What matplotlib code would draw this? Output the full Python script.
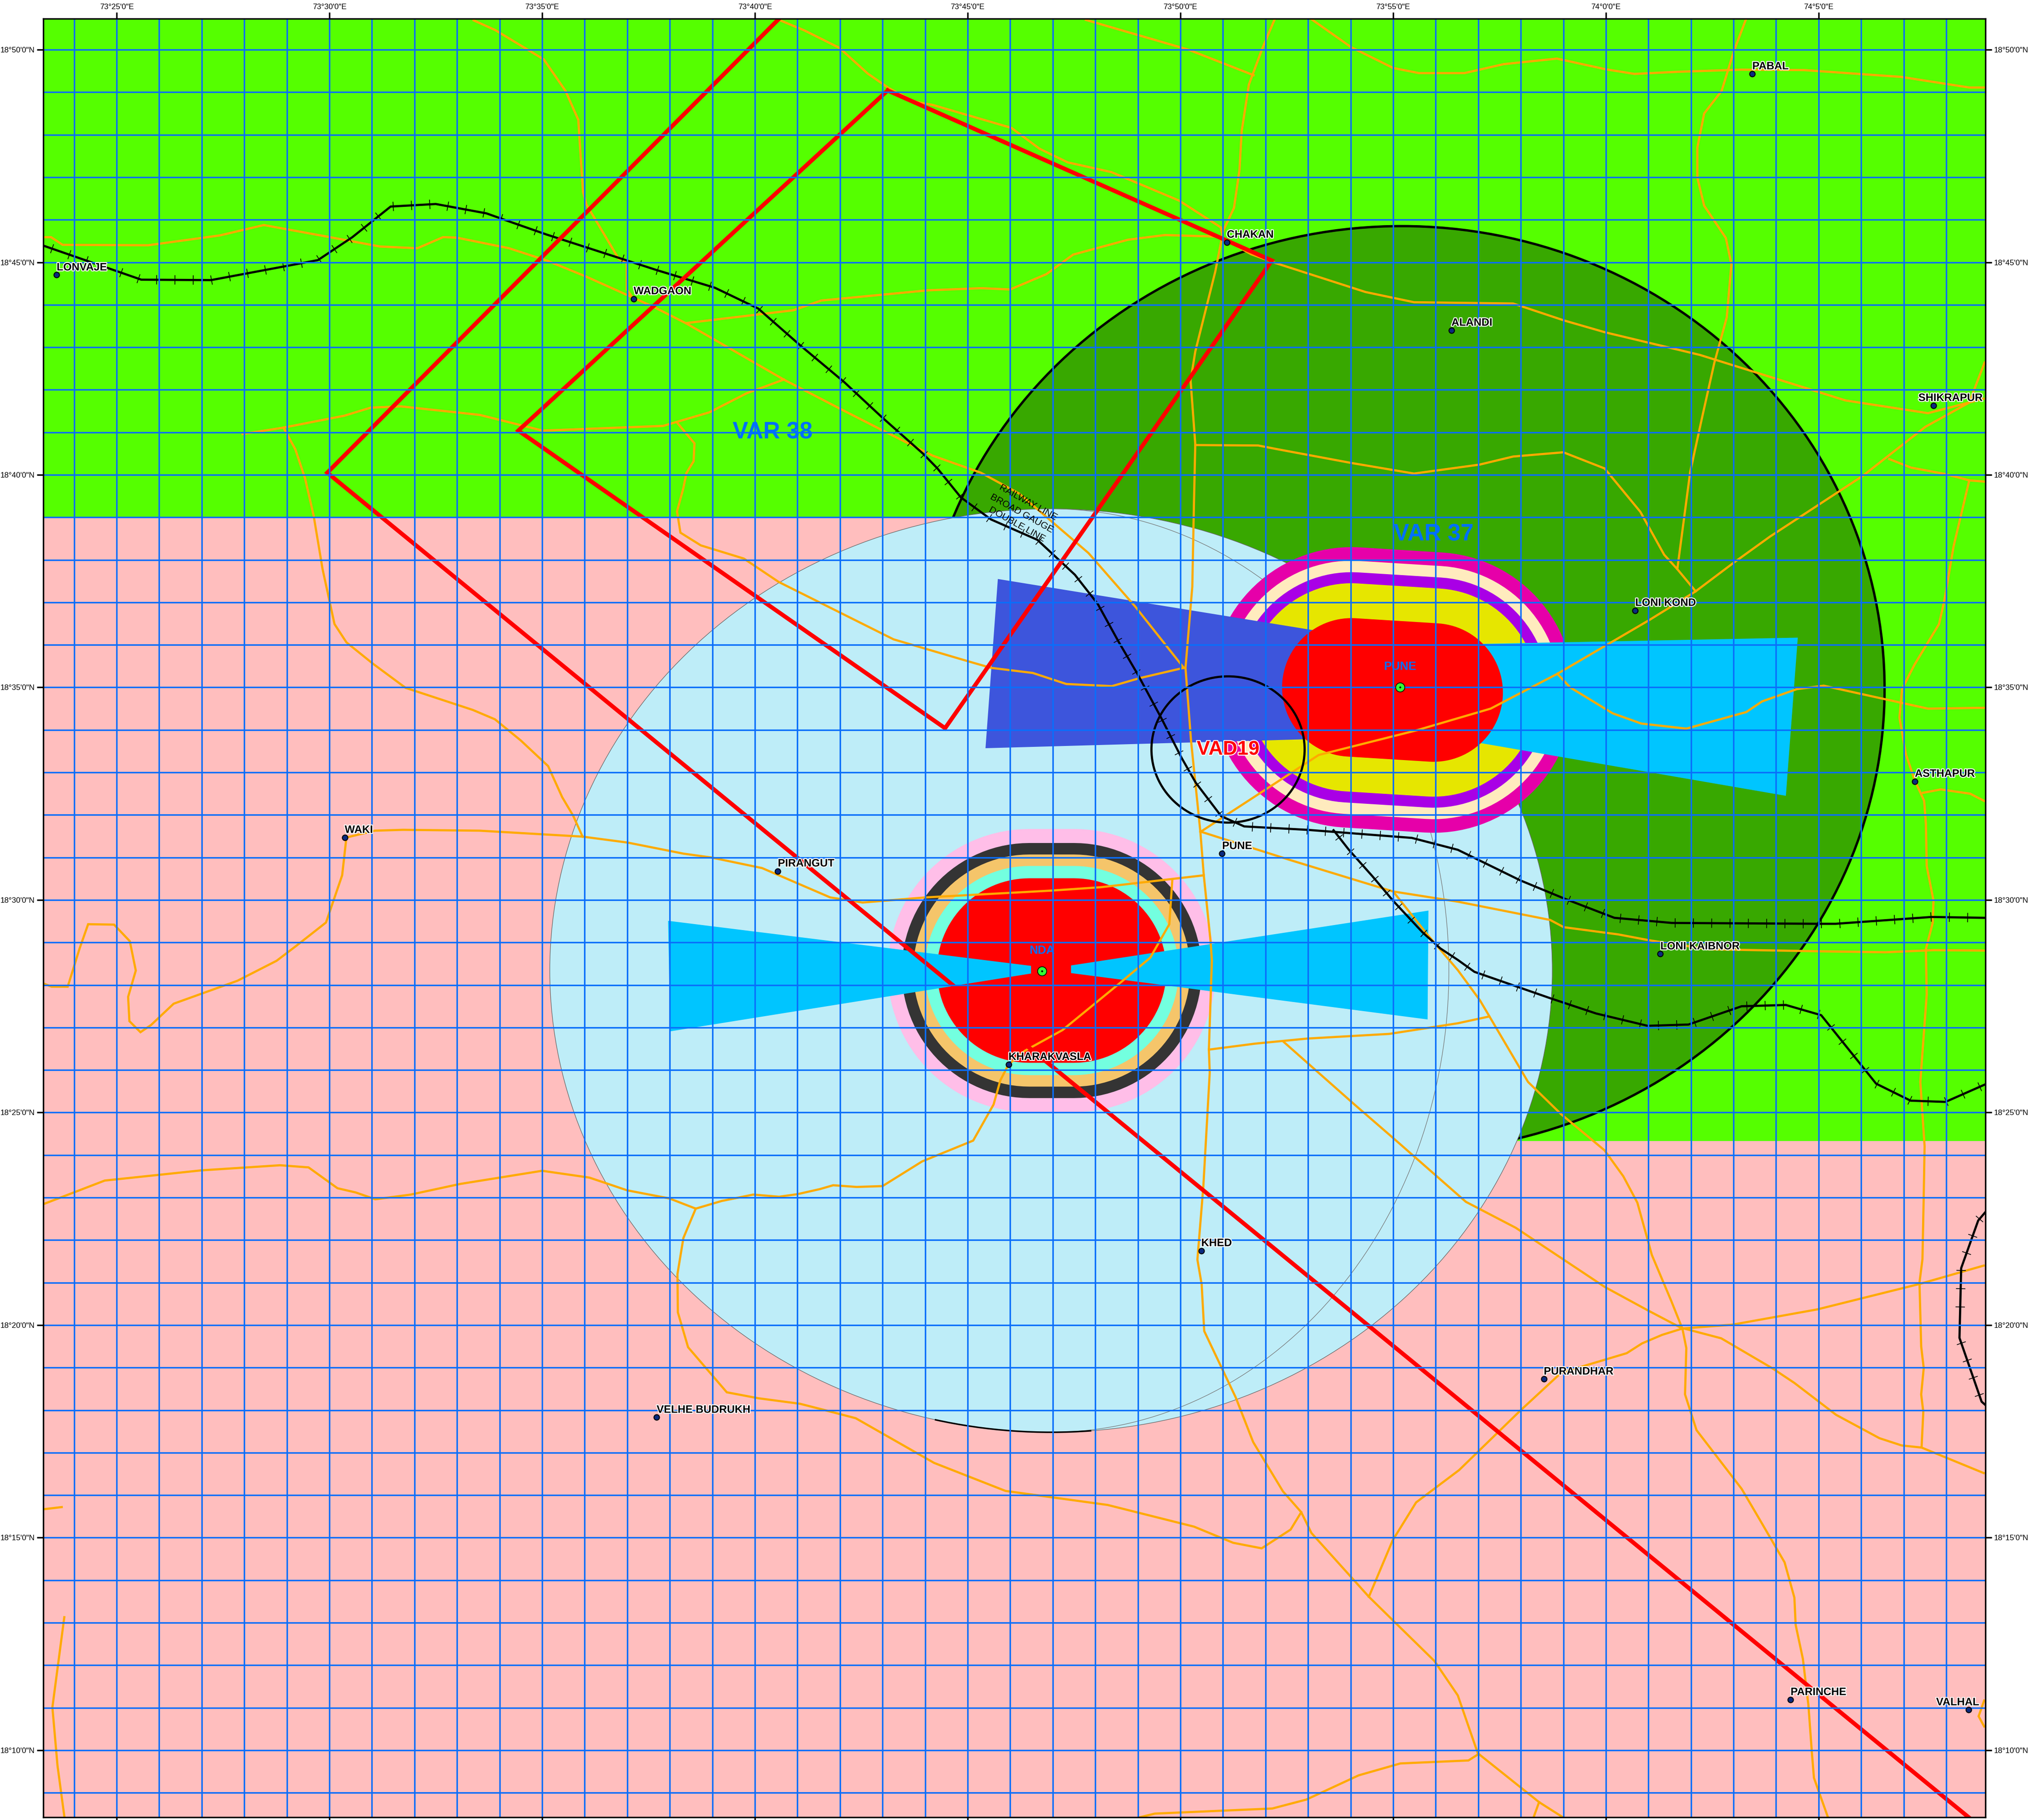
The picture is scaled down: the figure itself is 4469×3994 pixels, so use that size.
import numpy as np
import matplotlib
matplotlib.use("Agg")
import matplotlib.pyplot as plt
import matplotlib.patheffects as pe
from matplotlib.patches import Ellipse, Arc, Polygon
from matplotlib.collections import LineCollection

plt.rcParams['font.family'] = ['Liberation Sans', 'DejaVu Sans']

# All positions: arc-minutes east of 73 deg, arc-minutes north of 18 deg
LON_MIN, LON_MAX = 23.276, 68.92
LAT_MIN, LAT_MAX = 8.424, 50.729
LON_LABELS = [25, 30, 35, 40, 45, 50, 55, 60, 65]
LAT_LABELS = [10, 15, 20, 25, 30, 35, 40, 45, 50]

GREEN_AREA = [(LON_MIN, 39.0), (50.0, 39.0), (50.0, 24.33), (LON_MAX, 24.33), (LON_MAX, LAT_MAX), (LON_MIN, LAT_MAX)]

VAR37_CIRCLE = (55.2, 34.96, 11.35, 10.89)
CTR_CIRCLE = (46.96, 28.34, 11.78, 10.86)
CTR_INNER_SEMI_X = 9.35
VAD19_CIRCLE = (51.12, 33.54, 1.80, 1.72)

PUNE_RUNWAY = [(54.02, 35.0), (55.95, 34.88)]
PUNE_RADII = [3.30, 2.98, 2.71, 2.45, 1.63]
PUNE_COLORS = ['#E600A9', '#FFEBBE', '#A900E6', '#E6E600', '#FF0000']
NDA_RUNWAY = [(46.45, 28.34), (47.50, 28.34)]
NDA_RADII = [3.33, 3.0, 2.73, 2.46, 2.17]
NDA_COLORS = ['#FFBEE8', '#343434', '#F5C56A', '#73FFDF', '#FF0000']

FUNNEL_PUNE_W = [(45.71, 37.55), (54.02, 36.2), (54.02, 33.81), (45.42, 33.57)]
FUNNEL_PUNE_E = [(64.51, 36.17), (55.9, 36.0), (55.9, 33.89), (64.23, 32.45)]
FUNNEL_NDA_W = [(37.96, 29.51), (46.49, 28.45), (46.49, 28.27), (38.01, 26.91)]
FUNNEL_NDA_E = [(47.43, 28.46), (55.83, 29.75), (55.81, 27.19), (47.43, 28.28)]

RED_LINE_A = [(40.57, 50.73), (29.95, 40.05), (68.53, 8.42)]
RED_LINE_B = [(43.12, 49.04), (34.44, 41.04), (44.47, 34.04), (52.15, 45.04), (43.12, 49.04)]

RAIL_MAIN = [(23.28, 45.39), (25.58, 44.59), (27.22, 44.58), (29.73, 45.05), (30.54, 45.59), (31.44, 46.31),
             (32.50, 46.37), (33.69, 46.15), (34.31, 45.93), (35.11, 45.65), (37.71, 44.81), (39.06, 44.40),
             (40.08, 43.91), (41.06, 43.05), (42.10, 42.18), (42.98, 41.36), (43.96, 40.49), (44.29, 40.15),
             (44.84, 39.47), (45.55, 38.95), (46.64, 38.47), (47.52, 37.65), (48.06, 36.96), (48.55, 36.07),
             (48.99, 35.32), (49.54, 34.30), (50.03, 33.34), (50.36, 32.76), (50.96, 31.97), (51.50, 31.73),
             (52.98, 31.65), (55.44, 31.46), (56.52, 31.18), (57.99, 30.46), (59.03, 30.03), (60.20, 29.58),
             (61.55, 29.46), (64.97, 29.44), (65.40, 29.44), (67.65, 29.60), (68.91, 29.58)]
RAIL_BRANCH = [(53.6, 31.64), (53.96, 31.18), (54.52, 30.55), (55.0, 29.98), (55.69, 29.24), (56.11, 28.86),
               (56.52, 28.59), (56.91, 28.31), (58.69, 27.69), (59.77, 27.33), (60.98, 27.04), (61.94, 27.07),
               (63.19, 27.50), (64.23, 27.53), (65.06, 27.29), (66.35, 25.68), (67.16, 25.28), (67.98, 25.25),
               (68.91, 25.66)]
RAIL_EAST = [(68.92, 22.66), (68.75, 22.46), (68.35, 21.34), (68.31, 19.70), (68.83, 18.20), (68.92, 18.12)]

ROAD_01 = [(23.28, 45.59), (23.46, 45.59), (23.73, 45.41), (25.74, 45.40), (27.42, 45.63), (28.46, 45.875),
           (29.96, 45.60), (31.19, 45.37), (32.07, 45.33), (32.67, 45.59), (32.99, 45.58), (34.22, 45.33),
           (35.11, 45.04), (36.04, 44.66), (37.62, 43.95), (38.39, 43.56), (40.68, 42.24), (41.99, 41.56),
           (43.09, 41.0), (44.18, 40.45), (45.31, 40.05), (46.21, 39.56), (47.84, 38.16), (48.94, 36.9), (50.08, 35.46)]
ROAD_02 = [(33.39, 50.69), (33.90, 50.46), (35.04, 49.77), (35.55, 49.03), (35.85, 48.35), (35.96, 46.66),
           (36.04, 46.36), (36.80, 45.08), (36.99, 45.0), (36.99, 44.36), (37.15, 44.14)]
ROAD_03 = [(38.39, 43.57), (40.90, 43.87), (41.56, 44.10), (44.07, 44.34), (45.32, 44.39), (46.0, 44.36),
           (46.85, 44.72), (47.48, 45.18), (48.77, 45.53), (49.64, 45.64), (50.95, 45.60), (51.39, 45.34),
           (51.66, 45.19), (52.24, 44.98), (54.35, 44.30), (55.49, 44.06), (57.82, 44.03), (59.02, 43.63),
           (59.99, 43.35), (62.21, 42.82), (63.52, 42.41), (65.63, 41.75), (67.57, 41.45), (68.88, 41.79)]
ROAD_04 = [(40.57, 50.70), (41.17, 50.45), (41.99, 50.04), (42.65, 49.44), (43.14, 49.10), (43.74, 48.78),
           (44.18, 48.70), (46.03, 48.16), (46.69, 47.67), (47.35, 47.35), (48.38, 47.12), (49.97, 46.45),
           (50.95, 45.82), (51.0, 45.57)]
ROAD_05 = [(47.78, 50.70), (50.19, 50.0), (51.72, 49.40)]
ROAD_06 = [(52.21, 50.70), (51.93, 50.04), (51.61, 49.18), (51.44, 48.08), (51.39, 47.18), (51.26, 46.28),
           (51.01, 45.75), (50.82, 44.78), (50.35, 42.90), (50.24, 42.22), (50.35, 40.72), (50.32, 39.38),
           (50.28, 37.37), (50.12, 35.46), (50.25, 33.75), (50.47, 31.6), (50.55, 30.58), (50.71, 29.02),
           (50.74, 28.58), (50.67, 26.48), (50.69, 25.94), (50.54, 23.27), (50.40, 21.54), (50.50, 20.96),
           (50.56, 19.86), (51.30, 18.30), (51.71, 17.25), (52.41, 16.09), (52.84, 15.60), (53.08, 15.11),
           (54.43, 13.61), (55.97, 12.10), (56.52, 11.29), (56.99, 9.93), (58.43, 8.78), (58.98, 8.43)]
ROAD_07 = [(50.35, 40.70), (51.83, 40.69), (52.24, 40.61), (54.01, 40.28), (55.49, 40.03), (57.03, 40.24),
           (57.82, 40.43), (59.0, 40.53), (59.97, 40.15), (60.81, 39.13), (61.37, 38.12), (61.68, 37.78), (62.11, 37.26)]
ROAD_08 = [(63.29, 50.71), (63.01, 49.97), (62.72, 49.03), (62.31, 48.50), (62.15, 47.70), (62.15, 46.99),
           (62.31, 46.33), (62.82, 45.57), (62.95, 44.95), (62.84, 43.70), (62.55, 42.64), (62.27, 41.39),
           (61.98, 40.06), (61.68, 37.79)]
ROAD_09 = [(53.09, 50.71), (54.01, 50.06), (55.0, 49.57), (55.60, 49.45), (56.68, 49.45), (57.60, 49.66),
           (58.85, 49.79), (59.99, 49.54), (60.67, 49.43), (61.70, 49.48), (63.18, 49.53), (64.66, 49.52),
           (66.94, 49.36), (68.54, 49.11), (68.90, 49.11)]
ROAD_10 = [(50.47, 31.6), (53.25, 33.41), (55.55, 33.99), (57.29, 34.5), (58.86, 35.32), (61.03, 36.59),
           (62.11, 37.26), (63.0, 37.93), (63.86, 38.55), (66.03, 39.97), (67.51, 41.13), (68.54, 41.70), (68.90, 42.64)]
ROAD_11 = [(58.86, 35.32), (59.16, 35.0), (60.16, 34.39), (60.83, 34.15), (61.89, 34.03), (63.30, 34.42),
           (63.67, 34.67), (64.49, 34.96), (65.12, 35.04), (66.57, 34.72), (67.57, 34.50), (68.89, 34.52)]
ROAD_12 = [(66.66, 40.37), (67.17, 40.17), (67.97, 40.02), (68.54, 39.87), (68.90, 39.84)]
ROAD_13 = [(68.54, 39.87), (68.17, 38.31), (67.96, 37.07), (67.83, 36.49), (67.25, 35.53), (66.96, 34.96),
           (66.90, 34.29), (67.05, 33.43), (67.26, 32.81), (67.48, 32.33), (67.52, 31.80), (67.54, 30.80),
           (67.70, 29.98), (67.68, 29.46), (67.52, 28.84), (67.54, 27.78), (67.39, 25.72), (67.49, 24.21),
           (67.47, 23.05), (67.44, 21.55), (67.37, 21.0), (67.41, 19.5), (67.47, 18.99), (67.41, 18.37),
           (67.46, 17.96), (67.42, 17.14)]
ROAD_14 = [(67.45, 32.52), (67.87, 32.60), (68.56, 32.50), (68.89, 32.33)]
ROAD_15 = [(50.50, 31.60), (52.61, 30.93), (54.21, 30.44), (55.0, 30.2), (56.52, 29.96), (58.69, 29.53),
           (59.01, 29.36), (60.29, 29.19), (61.03, 29.05), (62.41, 28.84), (65.19, 28.79), (66.57, 28.77),
           (67.70, 28.82), (68.89, 28.81)]
ROAD_16 = [(55.0, 30.2), (55.81, 29.18), (56.52, 28.35), (57.04, 27.64), (58.17, 25.72), (58.95, 24.96),
           (59.97, 24.11), (60.41, 23.5), (60.74, 22.88), (61.08, 21.65), (61.54, 20.56), (61.80, 19.91),
           (61.89, 19.46), (61.86, 18.37), (62.13, 17.53), (63.19, 16.15), (63.63, 15.40), (64.20, 14.42),
           (64.43, 13.59), (64.46, 12.95), (64.63, 12.15), (64.76, 11.06), (64.84, 9.96), (64.89, 9.35), (65.22, 8.42)]
ROAD_17 = [(30.40, 31.47), (31.07, 31.63), (31.73, 31.65), (33.53, 31.63), (35.95, 31.49), (37.01, 31.35),
           (38.32, 31.09), (38.97, 31.0), (40.17, 30.75), (41.77, 30.06), (42.53, 29.94), (44.01, 30.06),
           (46.96, 30.22), (48.13, 30.30), (50.55, 30.58)]
ROAD_18 = [(30.40, 31.47), (30.30, 30.58), (29.92, 29.47), (29.22, 28.92), (28.76, 28.57), (27.84, 28.10),
           (26.34, 27.56), (25.81, 27.06), (25.56, 26.89), (25.30, 27.15), (25.27, 27.72), (25.45, 28.34),
           (25.31, 29.03), (24.94, 29.42), (24.33, 29.43), (24.13, 28.86), (23.85, 27.96), (23.47, 27.96), (23.27, 28.04)]
ROAD_19 = [(27.96, 40.96), (28.92, 41.11), (30.35, 41.39), (30.97, 41.58), (31.68, 41.61), (33.53, 41.41),
           (35.01, 41.04), (37.84, 41.15), (38.93, 41.47), (39.81, 41.92), (40.68, 42.24)]
ROAD_20 = [(28.92, 41.11), (29.20, 40.60), (29.43, 39.91), (29.63, 39.04), (29.84, 37.78), (30.12, 36.49),
           (30.40, 36.06), (31.02, 35.56), (31.79, 34.99), (33.37, 34.47), (33.89, 34.25), (34.50, 33.75),
           (35.14, 33.15), (35.47, 32.42), (35.73, 31.98), (35.95, 31.49)]
ROAD_21 = [(38.17, 41.23), (38.58, 40.74), (38.56, 40.32), (38.39, 40.04), (38.32, 39.69), (38.17, 39.14),
           (38.25, 38.64), (38.73, 38.34), (39.74, 38.03), (40.56, 37.48), (41.78, 36.87), (43.26, 36.13),
           (45.06, 35.60), (45.55, 35.46), (46.53, 35.34), (47.32, 35.08), (48.39, 35.03), (49.05, 35.22), (50.08, 35.46)]
ROAD_22 = [(49.81, 30.47), (49.74, 29.43), (49.29, 28.64), (48.56, 28.03), (47.23, 26.94), (46.34, 26.45),
           (45.96, 26.13), (45.77, 25.76), (45.61, 25.19), (45.13, 24.34), (43.93, 23.85), (43.0, 23.27),
           (42.39, 23.25), (41.84, 23.29), (41.53, 23.2), (41.0, 23.08), (40.57, 23.02), (39.96, 23.07),
           (39.22, 22.92), (38.61, 22.74), (37.99, 22.98), (37.0, 23.17), (36.11, 23.47), (35.0, 23.63),
           (33.07, 23.32), (31.91, 23.07), (31.08, 22.96), (30.62, 23.12), (30.19, 23.22), (29.51, 23.71),
           (28.84, 23.76), (26.99, 23.64), (24.72, 23.40), (23.29, 22.85)]
ROAD_23 = [(38.61, 22.74), (38.32, 22.05), (38.18, 21.20), (38.19, 20.30), (38.43, 19.48), (39.34, 18.42),
           (40.08, 18.28), (41.06, 18.15), (41.53, 18.03), (42.37, 17.81), (44.21, 16.76), (45.89, 16.10),
           (48.29, 15.77), (50.32, 15.26), (51.24, 14.88), (51.91, 14.75), (52.59, 15.19), (52.84, 15.60)]
ROAD_24 = [(23.29, 15.67), (23.71, 15.72)]
ROAD_25 = [(23.77, 13.13), (23.49, 11.01), (23.61, 9.64), (23.77, 8.45)]
ROAD_26 = [(50.67, 26.48), (51.75, 26.62), (52.98, 26.74), (54.91, 26.85), (56.52, 27.10), (57.26, 27.26)]
ROAD_27 = [(52.43, 26.66), (54.09, 25.19), (54.99, 24.41), (56.71, 22.90), (57.88, 22.29), (59.97, 20.90),
           (60.98, 20.35), (61.76, 19.94), (62.71, 19.69), (63.92, 18.98), (64.43, 18.64), (65.41, 17.89),
           (66.43, 17.34), (66.95, 17.17), (67.42, 17.12), (68.88, 16.52)]
ROAD_28 = [(68.88, 21.40), (67.38, 20.97), (64.97, 20.37), (62.97, 20.01), (61.80, 19.92), (61.32, 19.77),
           (60.85, 19.57), (60.49, 19.34), (58.95, 18.88), (58.0, 18.0), (56.55, 16.59), (55.54, 15.83),
           (54.99, 14.94), (54.43, 13.61)]
ROAD_29 = [(49.03, 8.42), (49.4, 8.51), (52.16, 8.63), (52.96, 8.84), (54.19, 9.41), (55.17, 9.69),
           (56.77, 9.76), (56.99, 9.90)]
ROAD_30 = [(58.43, 8.78), (58.3, 8.42)]
ROAD_31 = [(68.89, 11.17), (68.76, 10.80), (68.89, 10.56)]
ROADS = [ROAD_01, ROAD_02, ROAD_03, ROAD_04, ROAD_05, ROAD_06, ROAD_07, ROAD_08, ROAD_09, ROAD_10, ROAD_11,
         ROAD_12, ROAD_13, ROAD_14, ROAD_15, ROAD_16, ROAD_17, ROAD_18, ROAD_19, ROAD_20, ROAD_21, ROAD_22,
         ROAD_23, ROAD_24, ROAD_25, ROAD_26, ROAD_27, ROAD_28, ROAD_29, ROAD_30, ROAD_31]

TOWN_NAMES = ['LONVAJE', 'WADGAON', 'CHAKAN', 'ALANDI', 'PABAL', 'SHIKRAPUR', 'LONI KOND', 'ASTHAPUR',
              'LONI KAIBNOR', 'PIRANGUT', 'PUNE', 'KHARAKVASLA', 'WAKI', 'KHED', 'VELHE BUDRUKH',
              'PURANDHAR', 'PARINCHE', 'VALHAL']
TOWN_LON = [23.59, 37.15, 51.09, 56.37, 63.44, 67.70, 60.69, 67.26, 61.28, 40.54, 50.98, 45.96, 30.36,
            50.49, 37.69, 58.54, 64.34, 68.52]
TOWN_LAT = [44.70, 44.14, 45.47, 43.40, 49.43, 41.63, 36.81, 32.79, 28.73, 30.68, 31.09, 26.13, 31.47,
            21.75, 17.83, 18.73, 11.19, 10.95]
TOWN_SHIFT = {'SHIKRAPUR': -8.0, 'VALHAL': -17.0}

AIRPORT_NAMES = ['PUNE', 'NDA']
AIRPORT_LON = [55.16, 46.75]
AIRPORT_LAT = [35.0, 28.33]
AIRPORT_LABEL_LAT = [35.49, 28.81]

ZONE_LABELS = [('VAR 38', 40.41, 41.0), ('VAR 37', 55.95, 38.6)]
RAIL_TEXT = [('RAILWAY LINE', 46.42, 39.35), ('BROAD GAUGE', 46.27, 39.09), ('DOUBLE LINE', 46.16, 38.83)]

ROAD_C = '#FFAA00'
GRID_C = '#0A6EFA'
BLUE_T = '#0070FF'


def xy(points):
    a = np.asarray(points, float)
    return a[:, 0], a[:, 1]


def stadium(ends, r):
    (x1, y1), (x2, y2) = ends
    phi = np.arctan2(y2 - y1, x2 - x1)
    t1 = np.linspace(phi + np.pi / 2, phi + 3 * np.pi / 2, 60)
    t2 = np.linspace(phi - np.pi / 2, phi + np.pi / 2, 60)
    xs = np.r_[x1 + r * np.cos(t1), x2 + r * np.cos(t2)]
    ys = np.r_[y1 + r * np.sin(t1), y2 + r * np.sin(t2)]
    return np.c_[xs, ys]


def rail_ticks(points, step=0.43, half=0.11):
    a = np.asarray(points, float)
    seg = np.diff(a, axis=0)
    ln = np.hypot(seg[:, 0], seg[:, 1])
    cum = np.r_[0, np.cumsum(ln)]
    out = []
    for s in np.arange(step / 2, cum[-1], step):
        i = min(np.searchsorted(cum, s) - 1, len(seg) - 1)
        i = max(i, 0)
        u = seg[i] / ln[i]
        p = a[i] + u * (s - cum[i])
        n = np.array([-u[1], u[0]])
        out.append([p - n * half, p + n * half])
    return out


W, H = 4469, 3994
fig = plt.figure(figsize=(W / 300, H / 300), dpi=300, facecolor='white')
ax = fig.add_axes([95 / W, 1 - 3988 / H, (4358 - 95) / W, (3988 - 41) / H])
ax.set_facecolor('#FFBEBE')
ax.set_xlim(LON_MIN, LON_MAX)
ax.set_ylim(LAT_MIN, LAT_MAX)

ax.add_patch(Polygon(GREEN_AREA, closed=True, fc='#55FF00', ec='none', zorder=1))
cx, cy, sx, sy = VAR37_CIRCLE
ax.add_patch(Ellipse((cx, cy), 2 * sx, 2 * sy, fc='#38A800', ec='black', lw=1.25, zorder=1.05))
cx, cy, sx, sy = CTR_CIRCLE
ax.add_patch(Ellipse((cx, cy), 2 * sx, 2 * sy, fc='#BEEDF8', ec='#666666', lw=0.3, zorder=1.1))
ax.add_patch(Arc((cx, cy), 2 * CTR_INNER_SEMI_X, 2 * sy, theta1=-90, theta2=90, ec='#777777', lw=0.3, zorder=1.12))
ax.add_patch(Arc((cx, cy), 2 * sx, 2 * sy, theta1=255.5, theta2=275, ec='black', lw=0.8, zorder=1.13))

for i, (r, c) in enumerate(zip(PUNE_RADII[:-1], PUNE_COLORS[:-1])):
    ax.add_patch(Polygon(stadium(PUNE_RUNWAY, r), closed=True, fc=c, ec='none', zorder=1.2 + i * 0.01))
ax.add_patch(Polygon(FUNNEL_PUNE_W, closed=True, fc='#3D55DC', ec='none', zorder=1.26))
ax.add_patch(Polygon(FUNNEL_PUNE_E, closed=True, fc='#00C5FF', ec='none', zorder=1.26))
ax.add_patch(Polygon(stadium(PUNE_RUNWAY, PUNE_RADII[-1]), closed=True, fc=PUNE_COLORS[-1], ec='none', zorder=1.27))

for i, (r, c) in enumerate(zip(NDA_RADII, NDA_COLORS)):
    ax.add_patch(Polygon(stadium(NDA_RUNWAY, r), closed=True, fc=c, ec='none', zorder=1.3 + i * 0.01))
ax.add_patch(Polygon(FUNNEL_NDA_W, closed=True, fc='#00C5FF', ec='none', zorder=1.36))
ax.add_patch(Polygon(FUNNEL_NDA_E, closed=True, fc='#00C5FF', ec='none', zorder=1.36))

for road in ROADS:
    xs, ys = xy(road)
    ax.plot(xs, ys, color=ROAD_C, lw=1.15, solid_joinstyle='miter', zorder=1.5)

for rail in (RAIL_MAIN, RAIL_BRANCH, RAIL_EAST):
    xs, ys = xy(rail)
    ax.plot(xs, ys, color='black', lw=1.15, zorder=1.6)
    ax.add_collection(LineCollection(rail_ticks(rail), colors='black', linewidths=0.4, zorder=1.6))

for line in (RED_LINE_A, RED_LINE_B):
    xs, ys = xy(line)
    ax.plot(xs, ys, color='#FF0000', lw=2.2, solid_joinstyle='miter', zorder=1.7)

cx, cy, sx, sy = VAD19_CIRCLE
ax.add_patch(Ellipse((cx, cy), 2 * sx, 2 * sy, fc='none', ec='black', lw=1.15, zorder=1.8))

ax.set_xticks(LON_LABELS)
ax.set_yticks(LAT_LABELS)
ax.set_xticks(np.arange(24, 69), minor=True)
ax.set_yticks(np.arange(9, 51), minor=True)
ax.set_axisbelow(False)
ax.grid(True, which='both', color=GRID_C, lw=0.8)
ax.tick_params(which='minor', length=0)
ax.tick_params(which='major', length=3.4, width=0.8, color='black', top=True, bottom=True, left=True, right=True,
               labeltop=True, labelbottom=False, labelleft=True, labelright=True, labelsize=4.1, pad=1.0)
ax.set_xticklabels([f"{73 + m // 60}\u00b0{m % 60}'0\"E" for m in LON_LABELS])
ax.set_yticklabels([f"18\u00b0{n}'0\"N" for n in LAT_LABELS])
for s in ax.spines.values():
    s.set_linewidth(0.8)
    s.set_zorder(5)

halo = [pe.withStroke(linewidth=1.0, foreground='white')]
ax.plot(TOWN_LON, TOWN_LAT, 'o', ms=2.9, mfc='#0A2A80', mec='black', mew=0.5, zorder=3, clip_on=False)
for name, lon, lat in zip(TOWN_NAMES, TOWN_LON, TOWN_LAT):
    ax.annotate(name, (lon, lat), xytext=(TOWN_SHIFT.get(name, 0.0), 2.4), textcoords='offset points',
                fontsize=5.7, fontweight='bold', color='black', ha='left', va='baseline',
                path_effects=halo, zorder=4)

ax.plot(AIRPORT_LON, AIRPORT_LAT, 'o', ms=4.8, mfc='#33FF33', mec='black', mew=0.4, zorder=3)
ax.plot(AIRPORT_LON, AIRPORT_LAT, 'o', ms=1.0, mfc='black', mec='black', mew=0, zorder=3.1)
for name, lon, lat in zip(AIRPORT_NAMES, AIRPORT_LON, AIRPORT_LABEL_LAT):
    ax.text(lon, lat, name, fontsize=6.2, fontweight='bold', color=BLUE_T, ha='center', va='center', zorder=4)

for name, lon, lat in ZONE_LABELS:
    ax.text(lon, lat, name, fontsize=12.3, fontweight='bold', color=BLUE_T, ha='center', va='center', zorder=4)
ax.text(VAD19_CIRCLE[0], VAD19_CIRCLE[1], 'VAD19', fontsize=10.5, fontweight='bold', color='#FF0000',
        ha='center', va='center', path_effects=halo, zorder=4)
for name, lon, lat in RAIL_TEXT:
    ax.text(lon, lat, name, fontsize=5, color='black', ha='center', va='center', rotation=-29,
            rotation_mode='anchor', zorder=4)

fig.savefig('out.png', dpi=300, facecolor='white')
